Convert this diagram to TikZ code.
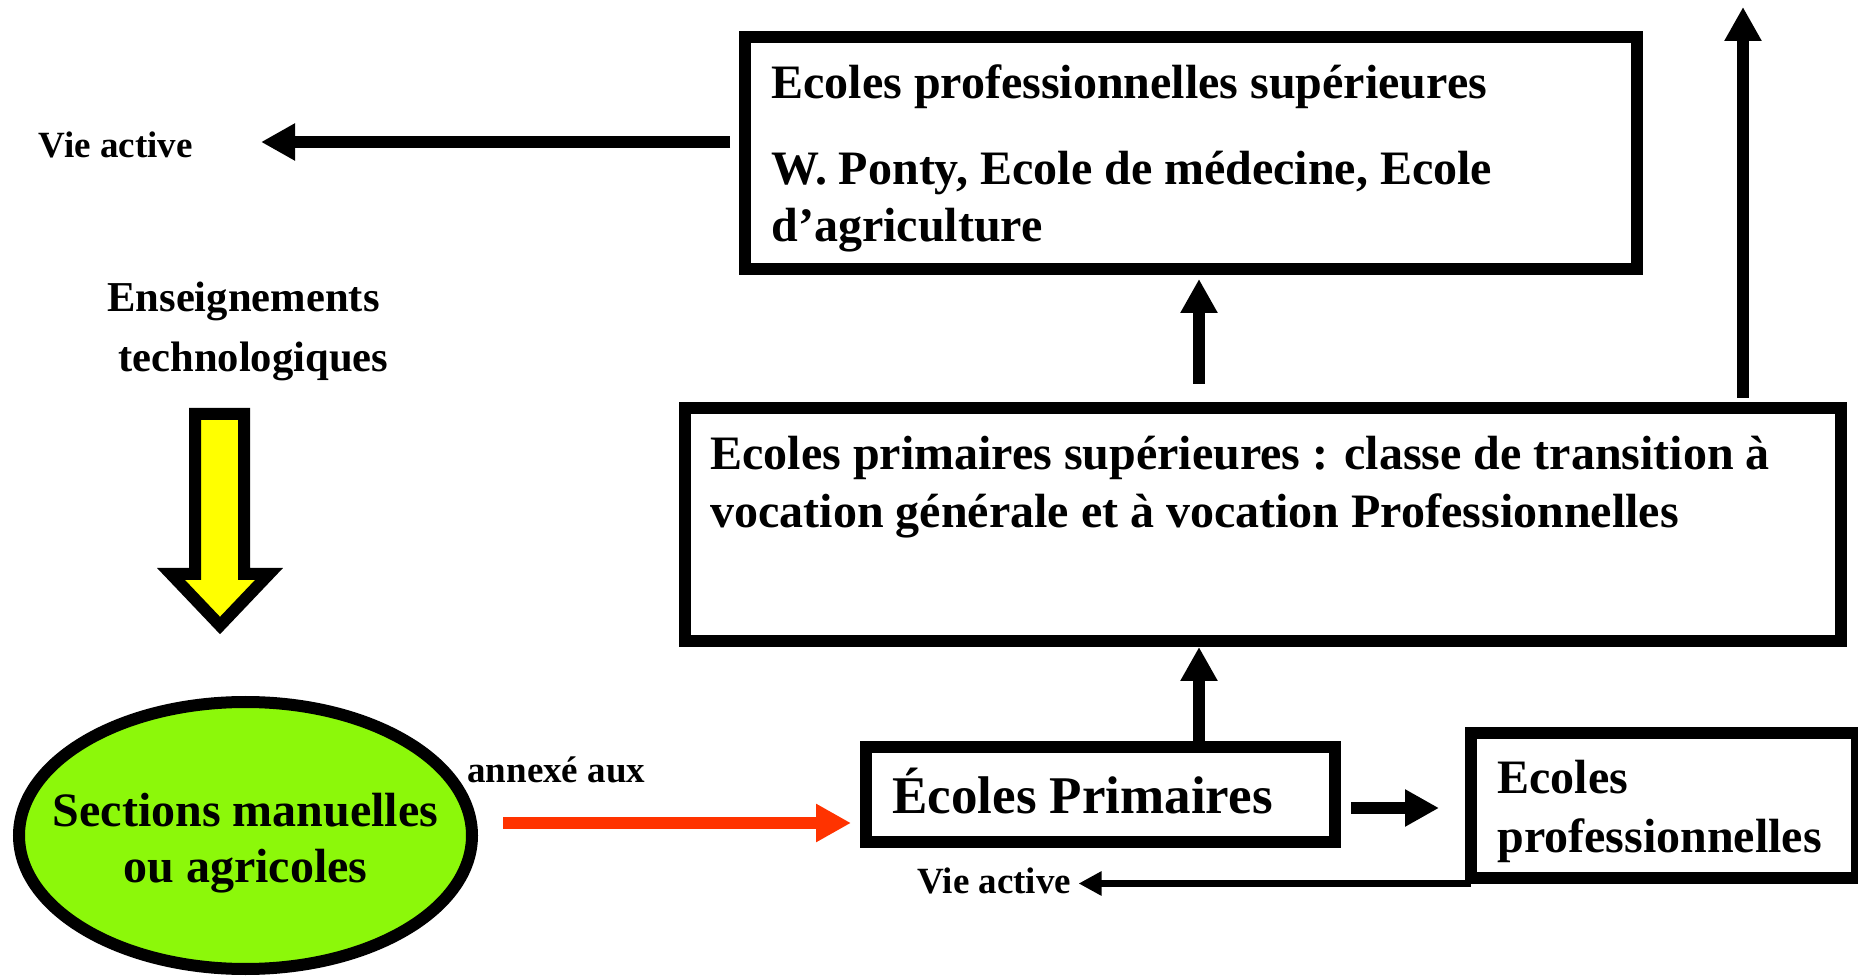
\documentclass[tikz,border=0pt]{standalone}
\usepackage{fontspec}
\setmainfont{Liberation Serif}
\usetikzlibrary{arrows.meta,shapes.geometric,calc}
\definecolor{lgreen}{RGB}{140,248,10}
\definecolor{redarr}{RGB}{255,51,0}
\definecolor{yel}{RGB}{255,255,0}
\tikzset{
  box/.style={draw=black, line width=6pt, rectangle, inner sep=0pt, outer sep=0pt, fill=white},
  txt/.style={inner sep=0pt, anchor=base west, font=\bfseries\fontsize{24pt}{28pt}\selectfont},
  txtc/.style={txt, anchor=base},
  big/.style={txt, font=\bfseries\fontsize{26.5pt}{30pt}\selectfont},
  small/.style={txt, font=\bfseries\fontsize{18.5pt}{22pt}\selectfont},
  mid/.style={txt, font=\bfseries\fontsize{21.3pt}{25pt}\selectfont},
  blk/.style={draw=black, line width=6pt, -{Triangle[length=17pt,width=17.5pt]}},
  thin/.style={draw=black, line width=3.5pt, -{Triangle[length=11.5pt,width=11.5pt]}},
  redar/.style={draw=redarr, line width=6pt, -{Triangle[length=17.5pt,width=18pt]}},
}
\begin{document}
\begin{tikzpicture}[x=0.5pt,y=-0.5pt]
\useasboundingbox (0,0) rectangle (1858,977);
\fill[white] (0,0) rectangle (1858,977);

% boxes
\node[box, minimum width=446pt, minimum height=116pt] (tb) at (1191,153) {};
\node[box, minimum width=578pt, minimum height=116.5pt] (mb) at (1263,524.5) {};
\node[box, minimum width=234.5pt, minimum height=47.5pt] (ep) at (1100.5,794.5) {};
\node[box, minimum width=193pt, minimum height=72.5pt] (epro) at (1664,805.5) {};
\node[draw=black, line width=6pt, ellipse, fill=lgreen, inner sep=0pt, outer sep=0pt,
      minimum width=226.5pt, minimum height=133.5pt] (ell) at (245.5,835.5) {};

% texts
\node[txt] (t1) at (771,99) {Ecoles professionnelles supérieures};
\node[txt] (t2) at (771,185) {W. Ponty, Ecole de médecine, Ecole};
\node[txt] (t3) at (771,242) {d’agriculture};
\node[txt] (m1) at (710,470) {Ecoles primaires supérieures : classe de transition à};
\node[txt] (m2) at (710,528) {vocation générale et à vocation Professionnelles};
\node[big] (e1) at (892,813) {Écoles Primaires};
\node[txt] (p1) at (1497,793) {Ecoles};
\node[txt] (p2) at (1497,852) {professionnelles};
\node[txtc] (s1) at (245.5,827) {Sections manuelles};
\node[txtc] (s2) at (245.5,882) {ou agricoles};
\node[small] (ann) at (467,783) {annexé aux};
\node[small] (va1) at (38.5,158) {Vie active};
\node[small] (va2) at (917,893) {Vie active};
\node[mid] (en1) at (107,312) {Enseignements};
\node[mid] (en2) at (118,372) {technologiques};

% yellow arrow
\draw[line width=6pt, fill=yel, line join=miter]
  (195,414) -- (244,414) -- (244,574) -- (269,574) -- (220,625.5)
  -- (171,574) -- (195,574) -- cycle;

% connectors
\coordinate (a1s) at ($(tb.west)+(-15,-11)$);
\coordinate (a1e) at ($(va1.east)+(68,0)$);
\draw[blk] (a1s) -- (a1s -| a1e);

\coordinate (a2s) at ($(mb.north)+(-64,-24)$);
\coordinate (a2e) at ($(tb.south)+(0,10)$);
\draw[blk] (a2s) -- (a2s |- a2e);

\coordinate (a3s) at ($(ep.north)+(98.5,0)$);
\coordinate (a3e) at ($(mb.south)+(0,6)$);
\draw[blk] (a3s) -- (a3s |- a3e);

\coordinate (a4s) at ($(mb.north)+(480,-10)$);
\coordinate (topend) at (1743,7);
\draw[blk] (a4s) -- (topend);

\coordinate (a5s) at ($(ep.east)+(16,13.5)$);
\coordinate (a5e) at ($(epro.west)+(-32,0)$);
\draw[blk] (a5s) -- (a5s -| a5e);

\coordinate (a6s) at ($(epro.south west)+(0,5.5)$);
\coordinate (a6e) at ($(va2.east)+(7,0)$);
\draw[thin] (a6s) -- (a6s -| a6e);

\coordinate (a7s) at ($(ell.east)+(31,-12.5)$);
\coordinate (a7e) at ($(ep.west)+(-15,0)$);
\draw[redar] (a7s) -- (a7s -| a7e);
\end{tikzpicture}
\end{document}
